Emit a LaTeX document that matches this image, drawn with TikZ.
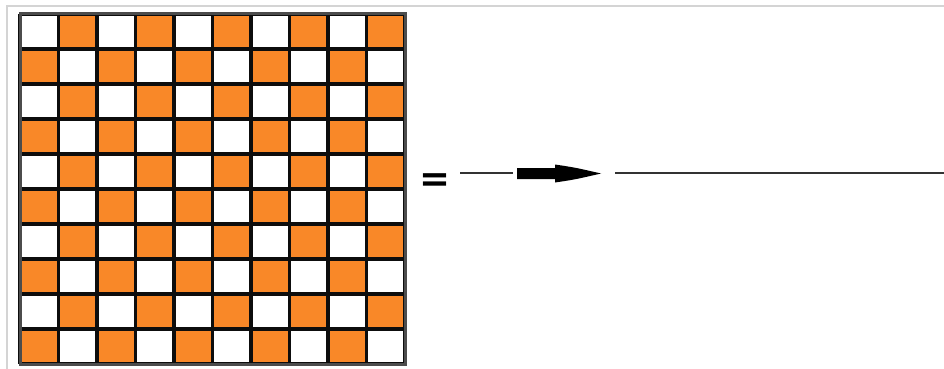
\documentclass[tikz,border=0pt]{standalone}
\usepackage{fontspec}
\newfontfamily\eqfont{DejaVu Sans}
\usetikzlibrary{arrows.meta}
\definecolor{cellorange}{RGB}{249,136,40}
\definecolor{framegray}{RGB}{212,212,212}
\tikzset{
  gridline/.style={line width=3.2pt,black!95},
  thinline/.style={line width=2pt,black!80}
}
\begin{document}
\begin{tikzpicture}[x=1pt,y=-1pt]
  \useasboundingbox (0,0) rectangle (944,369);
  % Frame
  \draw[framegray,line width=1.5pt] (7,369) -- (7,6) -- (944,6);
  % Checkerboard
  \foreach \i in {0,...,9}
    \foreach \j in {0,...,9}{
      \pgfmathtruncatemacro{\odd}{mod(\i+\j,2)}
      \ifnum\odd=1
        \fill[cellorange] (20+38.5*\i,14+35*\j) rectangle ++(38.5,35);
      \fi
    }
  \foreach \i in {0,...,10}
    \draw[gridline] (20+38.5*\i,14) -- (20+38.5*\i,364);
  \foreach \j in {0,...,10}
    \draw[gridline] (20,14+35*\j) -- (405,14+35*\j);
  \draw[black!70,line width=3pt] (20,14) rectangle (405,364);
  % Equals, arrow and line
  \node[inner sep=0pt] (eq) at (435,182.5) {\eqfont\bfseries\fontsize{37}{37}\selectfont =};
  \coordinate (s1) at (460,173);
  \coordinate (s2) at (513,173);
  \coordinate (a1) at (517,173.5);
  \coordinate (a2) at (601,173.5);
  \coordinate (l1) at (615,173);
  \coordinate (l2) at (944,173);
  \draw[thinline] (s1) -- (s2);
  \fill (a1) ++(0,-5.5) -- ++(38,0) -- ++(0,-3.5)
    .. controls ++(20,3) .. (a2)
    .. controls ++(-26,6) .. ++(-46,9) -- ++(0,-3.5) -- ++(-38,0) -- cycle;
  \draw[thinline] (l1) -- (l2);
\end{tikzpicture}
\end{document}
